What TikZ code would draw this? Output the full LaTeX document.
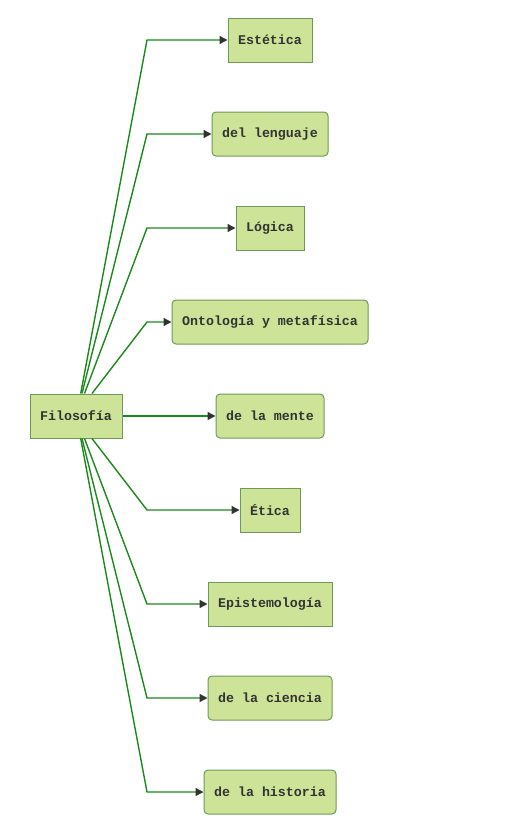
\documentclass[tikz,border=0pt]{standalone}
\usepackage{fontspec}
\setmonofont{Liberation Mono}
\usetikzlibrary{arrows.meta}
\definecolor{boxfill}{HTML}{CDE498}
\definecolor{boxdraw}{HTML}{6E9A55}
\definecolor{edgecol}{HTML}{1A8A1A}
\definecolor{txtcol}{HTML}{333333}
\begin{document}
\begin{tikzpicture}[x=1pt,y=-1pt,
  box/.style={draw=boxdraw, fill=boxfill, line width=1pt, minimum height=44pt, inner sep=0pt,
    font=\ttfamily\bfseries\fontsize{13.3}{15}\selectfont, text=txtcol},
  rbox/.style={box, rounded corners=4pt},
  edge/.style={draw=edgecol, line width=1.4pt, -{Triangle[length=8pt,width=8pt,fill=txtcol,color=txtcol]}}]
\useasboundingbox (0,0) rectangle (518,835);
\node[box, minimum width=92pt] (fil) at (76,416) {Filosofía};
\node[box, minimum width=84pt] (est) at (270,40) {Estética};
\node[rbox, minimum width=116pt] (len) at (270,134) {del lenguaje};
\node[box, minimum width=68pt] (log) at (270,228) {Lógica};
\node[rbox, minimum width=196pt] (ont) at (270,322) {Ontología y metafísica};
\node[rbox, minimum width=108pt] (men) at (270,416) {de la mente};
\node[box, minimum width=60pt] (eti) at (270,510) {Ética};
\node[box, minimum width=124pt] (epi) at (270,604) {Epistemología};
\node[rbox, minimum width=124pt] (cie) at (270,698) {de la ciencia};
\node[rbox, minimum width=132pt] (his) at (270,792) {de la historia};
\coordinate (kx) at (147,0);
\draw[edge] ([xshift=4.7pt]fil.north) -- (kx |- est.west) -- (est.west);
\draw[edge] ([xshift=6pt]fil.north) -- (kx |- len.west) -- (len.west);
\draw[edge] ([xshift=8.5pt]fil.north) -- (kx |- log.west) -- (log.west);
\draw[edge] ([xshift=16pt]fil.north) -- (kx |- ont.west) -- (ont.west);
\draw[edge] (fil.east) -- (men.west);
\draw[edge] ([xshift=16pt]fil.south) -- (kx |- eti.west) -- (eti.west);
\draw[edge] ([xshift=8.5pt]fil.south) -- (kx |- epi.west) -- (epi.west);
\draw[edge] ([xshift=6pt]fil.south) -- (kx |- cie.west) -- (cie.west);
\draw[edge] ([xshift=4.7pt]fil.south) -- (kx |- his.west) -- (his.west);
\end{tikzpicture}
\end{document}
